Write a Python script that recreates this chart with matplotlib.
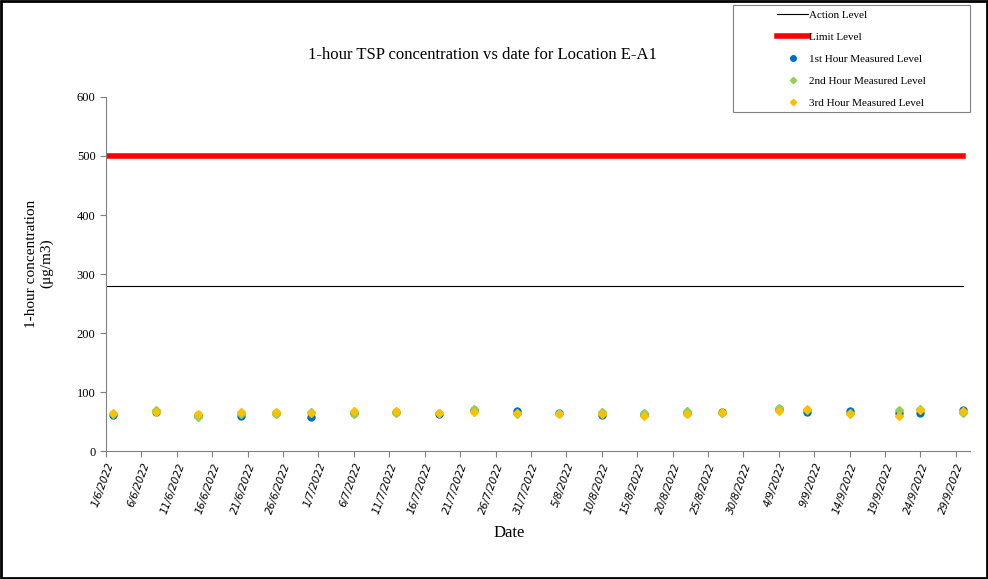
import numpy as np
import matplotlib.pyplot as plt
import matplotlib.dates as mdates
import pandas as pd

# measurement dates
dates = ['2022-06-02', '2022-06-08', '2022-06-14', '2022-06-20', '2022-06-25', '2022-06-30',
         '2022-07-06', '2022-07-12', '2022-07-18', '2022-07-23', '2022-07-29',
         '2022-08-04', '2022-08-10', '2022-08-16', '2022-08-22', '2022-08-27',
         '2022-09-04', '2022-09-08', '2022-09-14', '2022-09-21', '2022-09-24', '2022-09-30']
hour1 = [61, 67, 61, 59, 64, 58, 65, 66, 63, 69, 68, 65, 61, 62, 64, 66, 71, 67, 68, 65, 65, 70]
hour2 = [63, 69, 58, 62, 62, 66, 62, 64, 64, 71, 63, 64, 67, 64, 68, 64, 73, 69, 65, 70, 71, 64]
hour3 = [65, 66, 63, 66, 67, 64, 68, 68, 64, 67, 64, 63, 63, 60, 62, 67, 68, 71, 63, 60, 69, 68]

action_level = 280
limit_level = 500
line_dates = ['2022-06-01', '2022-09-30']

dates = pd.to_datetime(dates)
line_dates = pd.to_datetime(line_dates)

fig = plt.figure(figsize=(9.88, 5.79), dpi=100)
ax = fig.add_axes([0.1073, 0.221, 0.8745, 0.6115])

ax.plot(line_dates, [action_level] * 2, color='black', lw=0.8, label='Action Level')
ax.plot(line_dates, [limit_level] * 2, color='#FF0000', lw=4, label='Limit Level')
ax.plot(dates, hour1, 'o', color='#0070C0', ms=5, ls='none', label='1st Hour Measured Level')
ax.plot(dates, hour2, 'D', color='#92D050', ms=4, ls='none', label='2nd Hour Measured Level')
ax.plot(dates, hour3, 'D', color='#FFC000', ms=4, ls='none', label='3rd Hour Measured Level')

ax.set_ylim(0, 600)
ax.set_yticks(range(0, 601, 100))
ax.set_xlim(pd.Timestamp('2022-06-01'), pd.Timestamp('2022-10-01'))
ticks = pd.date_range('2022-06-01', '2022-09-30', freq='5D')
ax.set_xticks(ticks)
ax.set_xticklabels([f'{d.day}/{d.month}/{d.year}' for d in ticks], rotation=70,
                   ha='right', rotation_mode='anchor', fontstyle='italic', fontsize=7.5,
                   family='DejaVu Sans')
for lbl in ax.get_yticklabels():
    lbl.set_family('Liberation Serif')
    lbl.set_fontsize(9)

for s in ['top', 'right']:
    ax.spines[s].set_visible(False)
for s in ['left', 'bottom']:
    ax.spines[s].set_color('#808080')
ax.tick_params(color='#808080', length=4)

fig.text(0.488, 0.905, '1-hour TSP concentration vs date for Location E-A1',
         ha='center', va='center', family='Liberation Serif', fontsize=12)
fig.text(0.04, 0.545, '1-hour concentration\n(μg/m3)', ha='center', va='center',
         rotation=90, family='Liberation Serif', fontsize=11, linespacing=1.2)
fig.text(0.515, 0.08, 'Date', ha='center', va='center', family='Liberation Serif', fontsize=12)

# legend without its own frame, inside a drawn box
leg = fig.legend(loc='upper left', bbox_to_anchor=(777 / 988, 1 - 10 / 579),
                 prop={'family': 'Liberation Serif', 'size': 8}, frameon=False,
                 handlelength=2.8, borderaxespad=0, borderpad=0, labelspacing=1.1,
                 handletextpad=0.1, markerscale=0.8)
fig.patches.append(plt.Rectangle((733 / 988, 1 - 112 / 579), 237 / 988, 107 / 579,
                                 transform=fig.transFigure, fill=False,
                                 edgecolor='#808080', lw=0.8))

# outer frame
fig.patches.append(plt.Rectangle((0.001, 0.001), 0.998, 0.998, transform=fig.transFigure,
                                 fill=False, edgecolor='black', lw=2))

fig.savefig('out.png', dpi=100)
